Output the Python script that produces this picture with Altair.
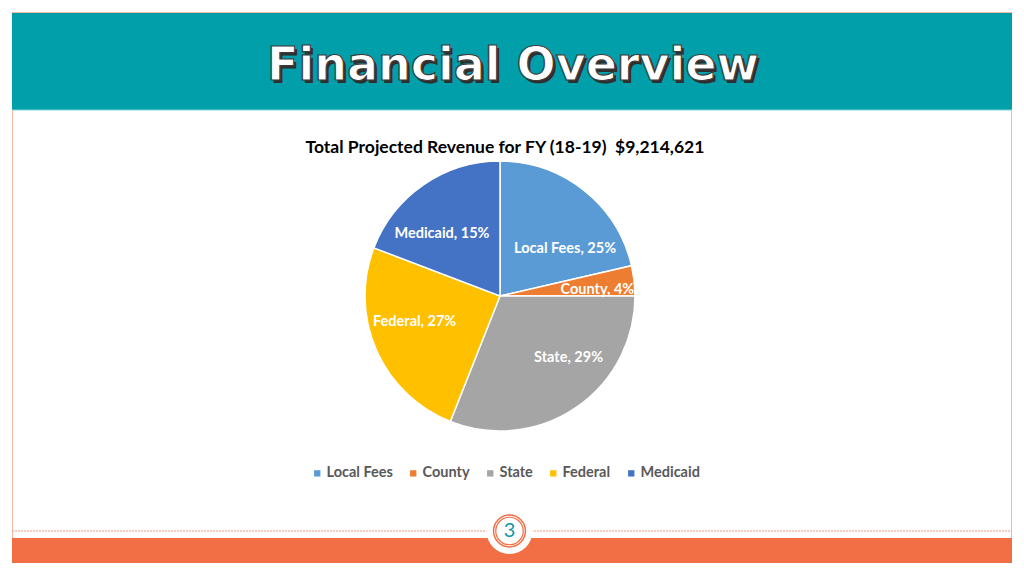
import altair as alt
import pandas as pd

# ---- data ----
categories = ["Local Fees", "County", "State", "Federal", "Medicaid"]
shares = [21.4, 3.6, 31.0, 24.8, 19.2]          # slice sizes as drawn in the picture
label_text = ["Local Fees, 25%", "County, 4%", "State, 29%", "Federal, 27%", "Medicaid, 15%"]
colors = ["#5B9BD5", "#ED7D31", "#A5A5A5", "#FFC000", "#4472C4"]
header_title = "Financial Overview"
chart_title = "Total Projected Revenue for FY (18-19)\u00a0 $9,214,621"
page_number = "3"

df = pd.DataFrame({
    "category": categories,
    "value": shares,
    "label": label_text,
    "idx": list(range(len(categories))),
})

W, H = 1008, 560
CX, CY = 492, 288       # pie centre (chart coords)
R = 135
TEAL = "#009FAA"
ORANGE = "#F26F45"
SALMON = "#F7B9A2"
one = alt.Data(values=[{"k": 0}])

# ---- slide decoration ----
header = alt.Chart(one).mark_rect(color=TEAL).encode(
    x=alt.value(4), x2=alt.value(1004), y=alt.value(5), y2=alt.value(102))
top_line = alt.Chart(one).mark_rule(color=SALMON, strokeWidth=1).encode(
    x=alt.value(4), x2=alt.value(1004), y=alt.value(4.5))
left_line = alt.Chart(one).mark_rule(color=SALMON, strokeWidth=1).encode(
    x=alt.value(4.5), y=alt.value(102), y2=alt.value(530))
right_line = alt.Chart(one).mark_rule(color=SALMON, strokeWidth=1).encode(
    x=alt.value(1003.5), y=alt.value(102), y2=alt.value(530))
header_bottom = alt.Chart(one).mark_rule(color="#7FD3DA", strokeWidth=1).encode(
    x=alt.value(4), x2=alt.value(1004), y=alt.value(102))

title_shadow = alt.Chart(one).mark_text(
    text=header_title, font="DejaVu Sans", fontWeight="bold", fontSize=46,
    fill="#2f2f2f", align="center", baseline="alphabetic", dx=2.5, dy=2.5
).encode(x=alt.value(505), y=alt.value(72))
title_main = alt.Chart(one).mark_text(
    text=header_title, font="DejaVu Sans", fontWeight="bold", fontSize=46,
    fill="white", stroke="#3c3c3c", strokeWidth=1.2, align="center", baseline="alphabetic"
).encode(x=alt.value(505), y=alt.value(72))

footer_band = alt.Chart(one).mark_rect(color=ORANGE).encode(
    x=alt.value(4), x2=alt.value(1004), y=alt.value(530), y2=alt.value(555))
footer_dash = alt.Chart(one).mark_rule(color="#F29A7A", strokeWidth=1, strokeDash=[2, 1]).encode(
    x=alt.value(4), x2=alt.value(1004), y=alt.value(523))
badge_bg = alt.Chart(one).mark_point(shape="circle", filled=True, fill="white", opacity=1,
                                     size=2124, strokeWidth=0).encode(
    x=alt.value(501.5), y=alt.value(523))
ring_outer = alt.Chart(one).mark_point(shape="circle", filled=False, color=ORANGE, opacity=1,
                                       size=1018, strokeWidth=1.5).encode(
    x=alt.value(501.5), y=alt.value(523))
ring_inner = alt.Chart(one).mark_point(shape="circle", filled=False, color=ORANGE, opacity=1,
                                       size=755, strokeWidth=1.2).encode(
    x=alt.value(501.5), y=alt.value(523))
page_no = alt.Chart(one).mark_text(
    text=page_number, font="Lato", fontSize=20, color="#1596A3", align="center", baseline="middle"
).encode(x=alt.value(501.5), y=alt.value(523))

# ---- chart ----
ctitle = alt.Chart(one).mark_text(
    text=chart_title, font="Lato", fontWeight="bold", fontSize=17.5, color="#000000",
    align="center", baseline="middle"
).encode(x=alt.value(497), y=alt.value(140))

theta = alt.Theta("value:Q", stack=True)
order = alt.Order("idx:Q")

pie = alt.Chart(df).mark_arc(outerRadius=R, stroke="white", strokeWidth=1.5).encode(
    theta=theta,
    order=order,
    color=alt.Color("category:N", sort=categories,
                    scale=alt.Scale(domain=categories, range=colors),
                    legend=alt.Legend(
                        title=None, orient="none", direction="horizontal",
                        legendX=302, legendY=458, symbolType="square", symbolSize=40,
                        symbolStrokeWidth=0, labelFont="Lato", labelFontSize=14.5,
                        labelFontWeight="bold", labelColor="#595959", labelOffset=2,
                        columnPadding=13, padding=0)),
    x=alt.value(CX), y=alt.value(CY),
)

label_offsets = {  # (radius, dx, dy) tweaks per label
    "Local Fees": (90, 9, 23),
    "County": (100, -2, 5),
    "State": (90, 18, -12),
    "Federal": (90, -3, -10),
    "Medicaid": (90, -7, 12),
}
label_layers = []
for cat in categories:
    r, dx, dy = label_offsets[cat]
    label_layers.append(
        alt.Chart(df).mark_text(radius=r, dx=dx, dy=dy, font="Lato", fontWeight="bold",
                                fontSize=14.5, color="white", align="center", baseline="middle").encode(
            theta=theta,
            order=order,
            text=alt.condition(alt.datum.category == cat, alt.Text("label:N"), alt.value("")),
            x=alt.value(CX), y=alt.value(CY),
        )
    )

chart = alt.layer(
    header, top_line, header_bottom, left_line, right_line, title_shadow, title_main,
    footer_band, footer_dash, badge_bg, ring_outer, ring_inner, page_no,
    ctitle, pie, *label_layers
).properties(
    width=W, height=H, padding=0, autosize=alt.AutoSizeParams(type="none"), background="white"
).configure_view(stroke=None)

chart.save("out.html", embed_options={"renderer": "svg", "actions": False})
